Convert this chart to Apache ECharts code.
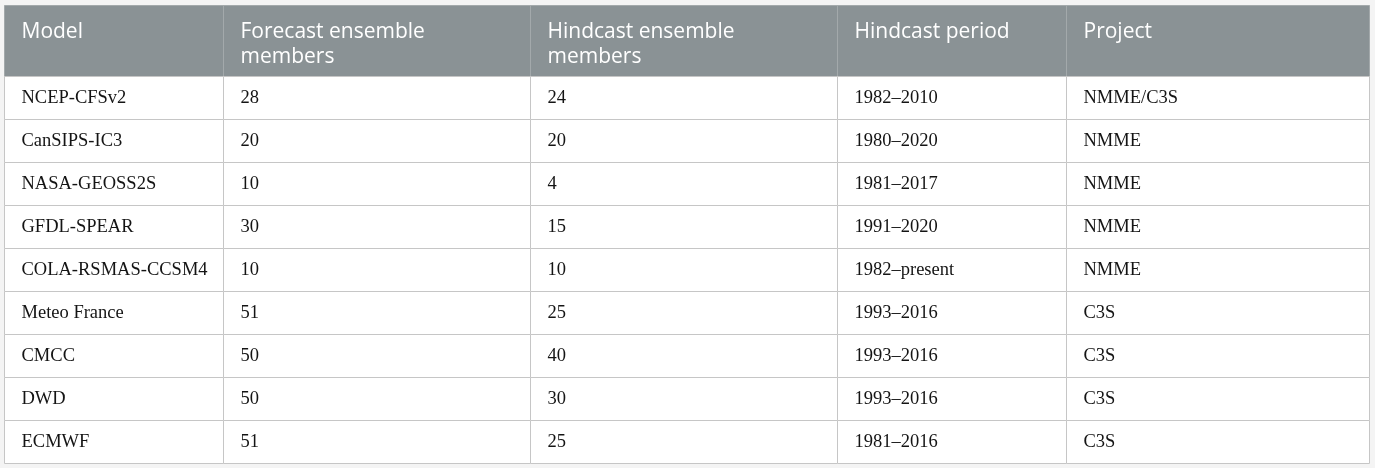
<!DOCTYPE html>
<html>
<head>
<meta charset="utf-8">
<script src="https://cdn.jsdelivr.net/npm/echarts@6/dist/echarts.min.js"></script>
<style>
  html, body { margin: 0; padding: 0; background: #f4f4f4; }
  #main { width: 1375px; height: 468px; }
</style>
</head>
<body>
<div id="main"></div>
<script>
// table content
var headers = ['Model', 'Forecast ensemble\nmembers', 'Hindcast ensemble\nmembers', 'Hindcast period', 'Project'];
var models = ['NCEP-CFSv2', 'CanSIPS-IC3', 'NASA-GEOSS2S', 'GFDL-SPEAR', 'COLA-RSMAS-CCSM4',
    'Meteo France', 'CMCC', 'DWD', 'ECMWF'];
var forecastMembers = [28, 20, 10, 30, 10, 51, 50, 50, 51];
var hindcastMembers = [24, 20, 4, 15, 10, 25, 40, 30, 25];
var hindcastPeriods = ['1982–2010', '1980–2020', '1981–2017', '1991–2020', '1982–present',
    '1993–2016', '1993–2016', '1993–2016', '1981–2016'];
var projects = ['NMME/C3S', 'NMME', 'NMME', 'NMME', 'NMME', 'C3S', 'C3S', 'C3S', 'C3S'];

// column boundaries on the x axis (layout, px from the table's left edge)
var colEdges = [0, 219, 526, 833, 1062, 1365];

var headCells = headers.map(function (h, i) {
    return { col: i, row: 0, text: h };
});
var bodyCells = [];
models.forEach(function (m, r) {
    [m, forecastMembers[r], hindcastMembers[r], hindcastPeriods[r], projects[r]].forEach(function (v, c) {
        bodyCells.push({ col: c, row: r, text: String(v) });
    });
});

var makeRender = function (cells, opt) {
    return function (params, api) {
        var c = cells[params.dataIndex];
        var p0 = api.coord([colEdges[c.col], c.row]);
        var p1 = api.coord([colEdges[c.col + 1], c.row]);
        var h = api.size([0, 1])[1];
        var x = Math.round(p0[0]) + 0.5;
        var w = Math.round(p1[0]) - Math.round(p0[0]);
        var y = Math.round(p0[1] - h / 2) + 0.5;
        return {
            type: 'group',
            children: [
                {
                    type: 'rect',
                    shape: { x: x, y: y, width: w, height: Math.round(h) },
                    style: { fill: opt.fill, stroke: opt.stroke, lineWidth: 1 }
                },
                {
                    type: 'text',
                    style: {
                        text: c.text,
                        x: x + 17,
                        y: opt.top ? y + opt.top : y + h / 2 + 0.5,
                        fill: opt.color,
                        font: opt.font,
                        lineHeight: opt.lineHeight,
                        align: 'left',
                        verticalAlign: opt.top ? 'top' : 'middle'
                    }
                }
            ]
        };
    };
};

var myChart = echarts.init(document.getElementById('main'));
var option = {
    animation: false,
    grid: [
        { left: 4, right: 6, top: 5, height: 71 },
        { left: 4, right: 6, top: 76, height: 387 }
    ],
    xAxis: [
        { gridIndex: 0, type: 'value', min: 0, max: 1365, show: false },
        { gridIndex: 1, type: 'value', min: 0, max: 1365, show: false }
    ],
    yAxis: [
        { gridIndex: 0, type: 'category', data: ['head'], show: false },
        { gridIndex: 1, type: 'category', data: models, inverse: true, show: false }
    ],
    series: [
        {
            type: 'custom',
            xAxisIndex: 0,
            yAxisIndex: 0,
            silent: true,
            data: headCells.map(function (c) { return [c.col, c.row]; }),
            renderItem: makeRender(headCells, {
                fill: '#8a9295',
                stroke: '#a3a9ab',
                color: '#ffffff',
                font: '21px "Open Sans"',
                lineHeight: 25,
                top: 14
            })
        },
        {
            type: 'custom',
            xAxisIndex: 1,
            yAxisIndex: 1,
            silent: true,
            data: bodyCells.map(function (c) { return [c.col, c.row]; }),
            renderItem: makeRender(bodyCells, {
                fill: '#ffffff',
                stroke: '#c6c6c6',
                color: '#141414',
                font: '18.5px "Liberation Serif"',
                lineHeight: 20
            })
        }
    ]
};
myChart.setOption(option);
window.onresize = myChart.resize;
</script>
</body>
</html>
